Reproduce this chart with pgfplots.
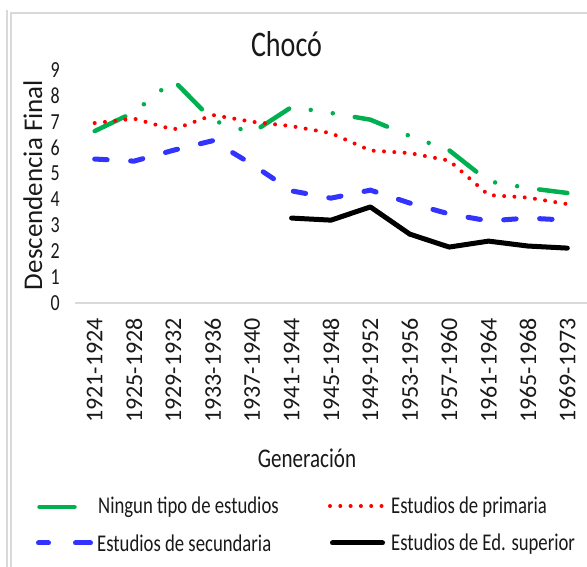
\documentclass[border=0pt]{standalone}
\usepackage{pgfplots}
\pgfplotsset{compat=1.18}
\usepackage{fontspec}
\setmainfont{Carlito}
\newfontfamily\condfont[FakeStretch=0.78]{Carlito}
\definecolor{cgreen}{RGB}{0,176,80}
\definecolor{cred}{RGB}{255,0,0}
\definecolor{cblue}{RGB}{51,51,255}
\definecolor{cgrid}{RGB}{217,217,217}
\definecolor{ctext}{RGB}{25,25,25}
\tikzset{
  sgreen/.style={cgreen, line width=4.5bp, line cap=round, line join=round, dash pattern=on 34bp off 22.3bp on 0bp off 22.3bp on 0bp off 22.3bp},
  sred/.style={cred, line width=4bp, line cap=round, line join=round, dash pattern=on 0bp off 10.3bp},
  sblue/.style={cblue, line width=5bp, line cap=round, line join=round, dash pattern=on 12.5bp off 23.5bp},
  sblack/.style={black, line width=5bp, line cap=round, line join=round},
}
\begin{document}
\begin{tikzpicture}[x=1bp,y=1bp]
\useasboundingbox (0,0) rectangle (587,567);
\draw[cgrid, line width=1.5bp] (7,557) -- (7,0);
\draw[cgrid, line width=1.5bp] (11,0) -- (11,554) -- (587,554);
\begin{axis}[
  at={(75bp,264bp)}, anchor=south west,
  scale only axis, width=512bp, height=233bp,
  xmin=-0.5, xmax=12.5, ymin=0, ymax=9,
  axis x line=bottom, axis y line=left,
  x axis line style={cgrid, line width=1.5bp, -},
  y axis line style={draw=none},
  major tick length=0pt,
  xtick={0,...,12}, ytick={0,...,9},
  xticklabels={1921-1924,1925-1928,1929-1932,1933-1936,1937-1940,1941-1944,1945-1948,1949-1952,1953-1956,1957-1960,1961-1964,1965-1968,1969-1973},
  xticklabel style={rotate=90, anchor=east, inner sep=0pt, text=ctext, font=\fontsize{24bp}{28bp}\selectfont},
  xticklabel shift=15bp,
  yticklabel style={anchor=east, inner sep=0pt, text=ctext, font=\condfont\fontsize{23bp}{26bp}\selectfont},
  yticklabel shift=15bp,
  /pgf/number format/assume math mode=true,
  clip=false,
]
\addplot[sgreen] coordinates {(0,6.64) (1,7.37) (2,8.6) (3,7.05) (4,6.58) (5,7.57) (6,7.34) (7,7.08) (8,6.45) (9,5.9) (10,4.7) (11,4.44) (12,4.25)};
\addplot[sred] coordinates {(0,6.95) (1,7.12) (2,6.70) (3,7.26) (4,7.0) (5,6.83) (6,6.56) (7,5.89) (8,5.79) (9,5.5) (10,4.17) (11,4.07) (12,3.82)};
\addplot[sblue] coordinates {(0,5.56) (1,5.48) (2,5.9) (3,6.27) (4,5.35) (5,4.33) (6,4.05) (7,4.36) (8,3.86) (9,3.44) (10,3.17) (11,3.28) (12,3.2)};
\addplot[sblack] coordinates {(5,3.28) (6,3.2) (7,3.71) (8,2.66) (9,2.16) (10,2.39) (11,2.2) (12,2.12)};
\end{axis}
% title and axis titles
\node[anchor=base, inner sep=0pt, text=ctext, font=\condfont\fontsize{36bp}{40bp}\selectfont] at (286.5,510) {Chocó};
\node[anchor=base, rotate=90, inner sep=0pt, text=ctext, font=\fontsize{27bp}{30bp}\selectfont] at (42,382) {Descendencia Final};
\node[anchor=base, inner sep=0pt, text=ctext, font=\condfont\fontsize{27bp}{30bp}\selectfont] at (307,99) {Generación};
% legend
\draw[cgreen, line width=4.5bp, line cap=round] (39.5,60) -- (74.5,60);
\node[anchor=base west, inner sep=0pt, text=ctext, font=\condfont\fontsize{24bp}{28bp}\selectfont] at (98,53) {Ningun tipo de estudios};
\draw[cblue, line width=5bp, line cap=round] (38.5,24) -- (48.5,24);
\draw[cblue, line width=5bp, line cap=round] (75.5,24) -- (90.5,24);
\node[anchor=base west, inner sep=0pt, text=ctext, font=\condfont\fontsize{24bp}{28bp}\selectfont] at (97,15) {Estudios de secundaria};
\draw[sred] (330,61) -- (382,61);
\node[anchor=base west, inner sep=0pt, text=ctext, font=\condfont\fontsize{24bp}{28bp}\selectfont] at (391,53) {Estudios de primaria};
\draw[black, line width=5bp, line cap=round] (332.5,24) -- (382.5,24);
\node[anchor=base west, inner sep=0pt, text=ctext, font=\condfont\fontsize{24bp}{28bp}\selectfont] at (391,16) {Estudios de Ed. superior};
\end{tikzpicture}
\end{document}
